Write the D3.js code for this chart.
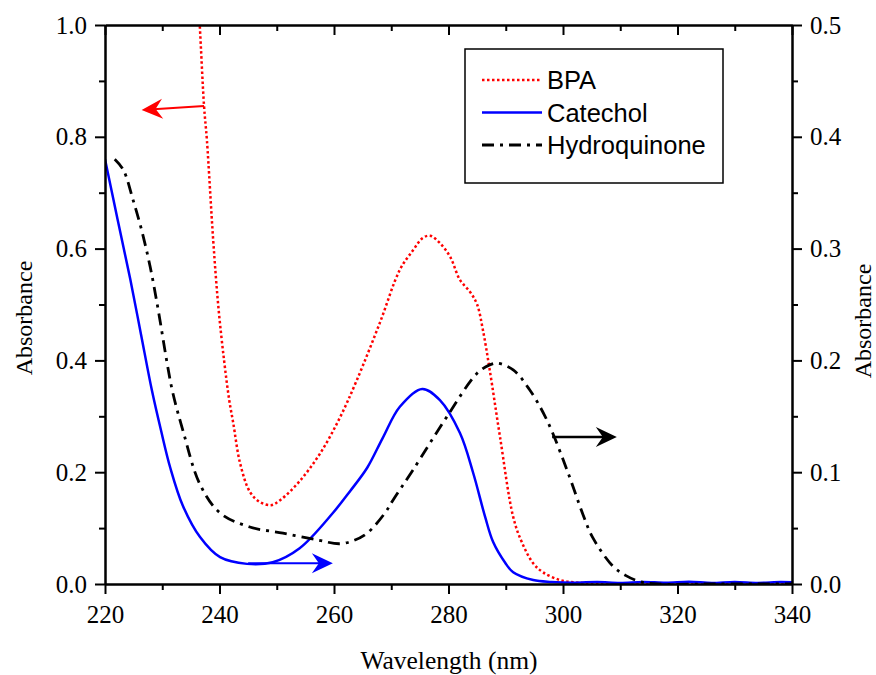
<!DOCTYPE html>
<html>
<head>
<meta charset="utf-8">
<script src="https://cdn.jsdelivr.net/npm/d3@7"></script>
<style>
  body { margin: 0; background: #fff; }
  svg { display: block; }
  .axis path, .axis line { stroke: #000; stroke-width: 2px; }
</style>
</head>
<body>
<svg id="chart" width="876" height="675"></svg>
<script>
// BPA, left axis (absorbance 0-1)
const bpaNm  = [236.2, 236.55, 237.3, 237.8, 238.9, 239.8, 240.8, 241.7, 242.4, 243.6, 245.3, 247.0, 249.0, 250.6, 254.0, 257.6, 261.0, 264.0, 268.0, 271.5, 273.8, 275.5, 276.8, 278.5, 280.3, 282.0, 283.8, 285.0, 286.0, 287.2, 289.0, 291.3, 292.8, 294.8, 296.5, 299.5, 302, 306, 315, 325, 340];
const bpaAbs = [1.06, 1.0, 0.855, 0.794, 0.615, 0.496, 0.40, 0.329, 0.288, 0.216, 0.165, 0.147, 0.141, 0.150, 0.184, 0.234, 0.297, 0.365, 0.467, 0.562, 0.597, 0.619, 0.623, 0.610, 0.585, 0.544, 0.522, 0.500, 0.455, 0.383, 0.263, 0.120, 0.075, 0.037, 0.021, 0.007, 0.003, 0.001, 0.0, 0.0, 0.0];

// Catechol, right axis (absorbance 0-0.5)
const catNm  = [220, 222.2, 224.4, 226.3, 228.2, 229.8, 231.4, 233.6, 236.6, 240.1, 244.8, 249.3, 254.0, 259.8, 262.8, 265.8, 268.5, 271.5, 275.4, 278.5, 282.0, 284.3, 286.4, 287.8, 289.9, 291.3, 294.8, 298, 302, 306, 310, 314, 318, 322, 326, 330, 334, 338, 340];
const catAbs = [0.380, 0.326, 0.273, 0.223, 0.173, 0.137, 0.104, 0.070, 0.042, 0.024, 0.018, 0.0195, 0.032, 0.0635, 0.083, 0.104, 0.1305, 0.1585, 0.1745, 0.1645, 0.135, 0.0995, 0.060, 0.0375, 0.019, 0.0105, 0.0035, 0.0018, 0.0012, 0.0018, 0.001, 0.0019, 0.0011, 0.002, 0.001, 0.0019, 0.001, 0.0018, 0.0015];

// Hydroquinone, right axis (absorbance 0-0.5)
const hqNm  = [221.7, 223.2, 224.9, 226.4, 227.9, 229.3, 230.8, 231.8, 233.6, 236.6, 240.1, 245.3, 251.1, 257.0, 261.0, 263.5, 265.8, 268.9, 270.3, 273.8, 279.7, 285.0, 287.2, 288.5, 291.3, 294.2, 297.2, 300.7, 303.5, 305.2, 308.7, 311, 313.5, 316.5, 325, 340];
const hqAbs = [0.380, 0.3705, 0.3435, 0.3165, 0.2835, 0.245, 0.199, 0.172, 0.1375, 0.089, 0.0635, 0.051, 0.0455, 0.0395, 0.036, 0.039, 0.0455, 0.0635, 0.075, 0.102, 0.1495, 0.1885, 0.196, 0.1975, 0.1915, 0.1735, 0.1465, 0.102, 0.062, 0.0415, 0.016, 0.0075, 0.002, 0.0, 0.0, 0.0];

const xTicks = [220, 240, 260, 280, 300, 320, 340];
const xMinor = [230, 250, 270, 290, 310, 330];
const yLeftTicks = [0, 0.2, 0.4, 0.6, 0.8, 1.0];
const yLeftMinor = [0.1, 0.3, 0.5, 0.7, 0.9];
const yRightTicks = [0, 0.1, 0.2, 0.3, 0.4, 0.5];
const yRightMinor = [0.05, 0.15, 0.25, 0.35, 0.45];

const series = [
  { name: "BPA", nm: bpaNm, abs: bpaAbs, axis: "left", color: "#ff0000", width: 2.5, dash: "2.5,2.5" },
  { name: "Catechol", nm: catNm, abs: catAbs, axis: "right", color: "#0000ff", width: 2.5, dash: null },
  { name: "Hydroquinone", nm: hqNm, abs: hqAbs, axis: "right", color: "#000000", width: 2.8, dash: "12,6,3,6" }
];

// arrows showing which axis each curve belongs to
const arrows = [
  { axis: "left", x0: 237.3, y0: 0.855, x1: 226.4, y1: 0.848, color: "#ff0000", width: 2 },
  { axis: "right", x0: 245.0, y0: 0.0185, x1: 259.8, y1: 0.0185, color: "#0000ff", width: 2 },
  { axis: "right", x0: 298.1, y0: 0.1315, x1: 309.4, y1: 0.1315, color: "#000000", width: 2.5 }
];

const SERIF = '"Liberation Serif", "Times New Roman", serif';
const SANS = '"Liberation Sans", Arial, sans-serif';

const W = 876, H = 675;
const m = { left: 105, right: 84, top: 25, bottom: 91 };
const svg = d3.select("#chart");

const x = d3.scaleLinear().domain([220, 340]).range([m.left, W - m.right]);
const yL = d3.scaleLinear().domain([0, 1]).range([H - m.bottom, m.top]);
const yR = d3.scaleLinear().domain([0, 0.5]).range([H - m.bottom, m.top]);
const yOf = a => a === "left" ? yL : yR;

svg.append("defs").append("clipPath").attr("id", "plot-clip")
  .append("rect")
  .attr("x", m.left).attr("y", m.top)
  .attr("width", W - m.left - m.right).attr("height", H - m.top - m.bottom);

// Curves
const gLines = svg.append("g").attr("clip-path", "url(#plot-clip)");
series.forEach(s => {
  const y = yOf(s.axis);
  const line = d3.line()
    .x((d, i) => x(s.nm[i]))
    .y(d => y(d))
    .curve(d3.curveCatmullRom.alpha(0.5));
  gLines.append("path")
    .attr("d", line(s.abs))
    .attr("fill", "none")
    .attr("stroke", s.color)
    .attr("stroke-width", s.width)
    .attr("stroke-dasharray", s.dash);
});

// Arrows
arrows.forEach(a => {
  const y = yOf(a.axis);
  const x0 = x(a.x0), y0 = y(a.y0), x1 = x(a.x1), y1 = y(a.y1);
  const ang = Math.atan2(y1 - y0, x1 - x0);
  svg.append("line")
    .attr("x1", x0).attr("y1", y0)
    .attr("x2", x1 - 12 * Math.cos(ang))
    .attr("y2", y1 - 12 * Math.sin(ang))
    .attr("stroke", a.color).attr("stroke-width", a.width);
  svg.append("path")
    .attr("d", "M0,0 L-21,-10 L-14,0 L-21,10 Z")
    .attr("fill", a.color)
    .attr("transform", `translate(${x1},${y1}) rotate(${ang * 180 / Math.PI})`);
});

// Axes
const fmt = d3.format(".1f");
const yB = H - m.bottom;
function styleAxis(g) {
  g.attr("class", "axis");
  g.selectAll("text")
    .style("font-family", SERIF)
    .style("font-size", "25px")
    .style("fill", "#000");
}

svg.append("g")
  .attr("transform", `translate(0,${yB})`)
  .call(d3.axisBottom(x).tickValues(xTicks).tickSize(10).tickSizeOuter(0).tickPadding(11).tickFormat(d3.format("d")))
  .call(styleAxis);
svg.append("g")
  .attr("transform", `translate(0,${yB})`)
  .call(d3.axisBottom(x).tickValues(xMinor).tickSize(6).tickSizeOuter(0).tickFormat(""))
  .call(styleAxis);

// top mirror axis, ticks pointing inward
svg.append("g")
  .attr("transform", `translate(0,${m.top})`)
  .call(d3.axisBottom(x).tickValues(xTicks).tickSize(10).tickSizeOuter(0).tickFormat(""))
  .call(styleAxis);
svg.append("g")
  .attr("transform", `translate(0,${m.top})`)
  .call(d3.axisBottom(x).tickValues(xMinor).tickSize(6).tickSizeOuter(0).tickFormat(""))
  .call(styleAxis);

svg.append("g")
  .attr("transform", `translate(${m.left},0)`)
  .call(d3.axisLeft(yL).tickValues(yLeftTicks).tickSize(10).tickSizeOuter(0).tickPadding(8).tickFormat(fmt))
  .call(styleAxis);
svg.append("g")
  .attr("transform", `translate(${m.left},0)`)
  .call(d3.axisLeft(yL).tickValues(yLeftMinor).tickSize(6).tickSizeOuter(0).tickFormat(""))
  .call(styleAxis);

svg.append("g")
  .attr("transform", `translate(${W - m.right},0)`)
  .call(d3.axisRight(yR).tickValues(yRightTicks).tickSize(10).tickSizeOuter(0).tickPadding(8).tickFormat(fmt))
  .call(styleAxis);
svg.append("g")
  .attr("transform", `translate(${W - m.right},0)`)
  .call(d3.axisRight(yR).tickValues(yRightMinor).tickSize(6).tickSizeOuter(0).tickFormat(""))
  .call(styleAxis);

// Axis titles
const title = (tx, ty, rot, txt) => svg.append("text")
  .attr("text-anchor", "middle")
  .attr("transform", `translate(${tx},${ty}) rotate(${rot})`)
  .style("font-family", SERIF).style("font-size", "24px").style("fill", "#000")
  .text(txt);
title(32, 318, -90, "Absorbance");
title(871, 321, -90, "Absorbance");
title(449, 669, 0, "Wavelength (nm)").style("font-size", "25.5px");

// Legend
const lg = svg.append("g");
lg.append("rect")
  .attr("x", 465).attr("y", 49).attr("width", 258).attr("height", 134)
  .attr("fill", "#fff").attr("stroke", "#000").attr("stroke-width", 1.5);
series.forEach((s, i) => {
  const ly = 80 + i * 32.5;
  lg.append("line")
    .attr("x1", 482).attr("x2", 542).attr("y1", ly).attr("y2", ly)
    .attr("stroke", s.color).attr("stroke-width", s.width)
    .attr("stroke-dasharray", s.dash);
  lg.append("text").attr("x", 547).attr("y", ly + 9)
    .style("font-family", SANS).style("font-size", "25.5px").style("fill", "#000")
    .text(s.name);
});
</script>
</body>
</html>
